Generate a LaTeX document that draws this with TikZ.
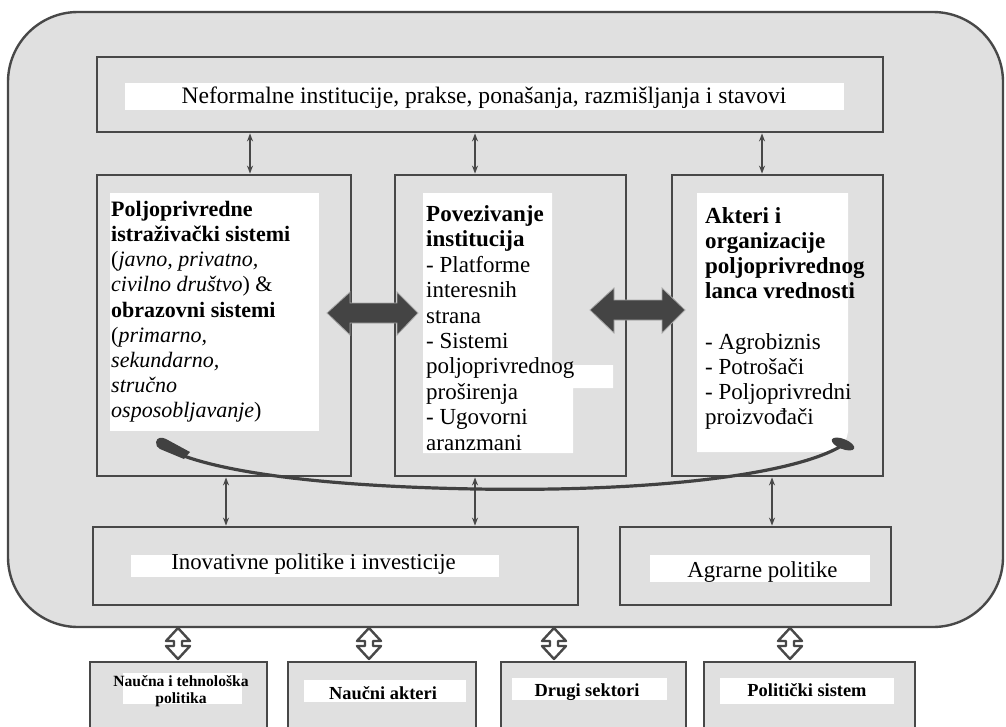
\documentclass[tikz,border=0pt]{standalone}
\usepackage{fontspec}
\setmainfont{Liberation Serif}
\usetikzlibrary{arrows.meta}
\definecolor{bg}{RGB}{224,224,224}
\definecolor{dark}{RGB}{72,72,72}
\definecolor{arrowfill}{RGB}{68,68,68}
\tikzset{
  boxx/.style={draw=dark, line width=2.8pt, fill=bg, inner sep=0pt},
  strip/.style={fill=white},
  txt/.style={inner sep=0pt, anchor=north west, align=left},
  lbl/.style={inner sep=0pt, anchor=base, font=\fontsize{22.8}{27}\selectfont},
  blbl/.style={inner sep=0pt, anchor=base, font=\bfseries\fontsize{18.4}{20}\selectfont},
  dbl/.style={{Stealth[length=8pt,width=6pt]}-{Stealth[length=8pt,width=6pt]}, line width=1.5pt, draw=dark},
  bigarrow/.style={fill=arrowfill, draw=gray!70, line width=0.8pt},
  twin/.style={fill=white, draw=dark, line width=2.4pt, line join=round}
}
\begin{document}
\begin{tikzpicture}[x=1pt,y=-1pt]
\useasboundingbox (0,0) rectangle (1006,726);
\fill[white] (0,0) rectangle (1006,726);
% outer frame
\node[draw=dark, line width=2.4pt, fill=bg, rounded corners=70pt, minimum width=995pt, minimum height=615pt, inner sep=0pt] (outer) at (505.5,319.5) {};
% boxes
\node[boxx, minimum width=786pt, minimum height=75pt] (top) at (490,94.5) {};
\node[boxx, minimum width=254pt, minimum height=301pt] (lbox) at (224,325.5) {};
\node[boxx, minimum width=231pt, minimum height=301pt] (mbox) at (510.5,325.5) {};
\node[boxx, minimum width=211pt, minimum height=301pt] (rbox) at (777.5,325.5) {};
\node[boxx, minimum width=485pt, minimum height=78pt] (ibox) at (335.5,566) {};
\node[boxx, minimum width=271pt, minimum height=78pt] (abox) at (755.5,566) {};
\node[boxx, minimum width=177pt, minimum height=78pt] (b1) at (178.5,701) {};
\node[boxx, minimum width=188pt, minimum height=78pt] (b2) at (382,701) {};
\node[boxx, minimum width=185pt, minimum height=78pt] (b3) at (593.5,701) {};
\node[boxx, minimum width=211pt, minimum height=78pt] (b4) at (809.5,701) {};
% white strips
\fill[strip] (125,83) rectangle (844,110);
\fill[strip] (110,193) rectangle (319,431);
\fill[strip] (423,193) -- (552,193) -- (552,365) -- (613,365) -- (613,388) -- (573,388) -- (573,453) -- (423,453) -- cycle;
\fill[strip] (697,193) -- (848,193) -- (848,432) .. controls (846,445) and (838,452) .. (828,452) -- (697,452) -- cycle;
\fill[strip] (131,555) rectangle (499,577);
\fill[strip] (650,555) rectangle (870,582);
\fill[strip] (123,673) rectangle (242,704);
\fill[strip] (304,680) rectangle (466,702);
\fill[strip] (512,678) rectangle (667,700);
\fill[strip] (720,678) rectangle (894,704);
% texts
\node[lbl, font=\fontsize{23.6}{27}\selectfont] (toptext) at (484,103.5) {Neformalne institucije, prakse, ponašanja, razmišljanja i stavovi};
\node[txt, font=\fontsize{22}{25.2}\selectfont] (ltext) at (111,198.5) {\strut\textbf{Poljoprivredne}\\\textbf{istraživački sistemi}\\(\textit{javno, privatno,}\\\textit{civilno društvo}) \&\\\textbf{obrazovni sistemi}\\(\textit{primarno,}\\\textit{sekundarno,}\\\textit{stručno}\\\textit{osposobljavanje})};
\node[txt, font=\fontsize{23}{25.4}\selectfont] (mtext) at (426,203.5) {\strut\textbf{Povezivanje}\\\textbf{institucija}\\- Platforme\\interesnih\\strana\\- Sistemi\\poljoprivrednog\\proširenja\\- Ugovorni\\aranzmani};
\node[txt, font=\fontsize{23}{25.2}\selectfont] (rtext) at (705,205.4) {\strut\textbf{Akteri i}\\\textbf{organizacije}\\\textbf{poljoprivrednog}\\\textbf{lanca vrednosti}\\[25.2pt]- Agrobiznis\\- Potrošači\\- Poljoprivredni\\proizvođači};
\node[lbl] (itext) at (313.5,569) {Inovativne politike i investicije};
\node[lbl] (atext) at (762.5,577) {Agrarne politike};
\node[inner sep=0pt, anchor=north, align=center, font=\bfseries\fontsize{15.6}{17.5}\selectfont] (t1) at (181,673.8) {\strut Naučna i tehnološka\\politika};
\node[blbl] (t2) at (383,699) {Naučni akteri};
\node[blbl] (t3) at (587,696) {Drugi sektori};
\node[blbl] (t4) at (807,696) {Politički sistem};
% small vertical arrows
\coordinate (u1) at ([xshift=26pt]lbox.north);
\coordinate (u2) at ([xshift=-35.5pt]mbox.north);
\coordinate (u3) at ([xshift=-15.5pt]rbox.north);
\draw[dbl] (u1 |- top.south) -- (u1);
\draw[dbl] (u2 |- top.south) -- (u2);
\draw[dbl] (u3 |- top.south) -- (u3);
\coordinate (d1) at ([xshift=2pt]lbox.south);
\coordinate (d2) at ([xshift=-35.5pt]mbox.south);
\coordinate (d3) at ([xshift=-5.5pt]rbox.south);
\draw[dbl] (d1) -- (d1 |- ibox.north);
\draw[dbl] (d2) -- (d2 |- ibox.north);
\draw[dbl] (d3) -- (d3 |- abox.north);
% big double arrows
\path[bigarrow] (327,313) -- (350,292) -- (350,303) -- (397,303) -- (397,292) -- (418,313) -- (397,335) -- (397,323) -- (350,323) -- (350,335) -- cycle;
\path[bigarrow] (590,310) -- (614,288) -- (614,300) -- (662,300) -- (662,288) -- (685,310) -- (662,333) -- (662,320) -- (614,320) -- (614,333) -- cycle;
% sweeping curve
\draw[dark!90!black, line width=3.2pt, line cap=round] (164,447) .. controls (200,468) and (300,486) .. (476,489) .. controls (650,492) and (800,475) .. (846,443);
\fill[dark!90!black] (156,442) .. controls (157,437) and (162,437) .. (166,439) -- (190,452) -- (184,459) -- (160,449) .. controls (157,448) and (156,445) .. (156,442) -- cycle;
\fill[dark!90!black, rotate around={-22:(843,444)}] (843,444) ellipse (12pt and 5pt);
% twin arrows to outside actors
\foreach \x/\n in {178/k1,369/k2,554/k3,790/k4}{
  \path[twin] (\x,628) -- (\x+12,641) -- (\x+4,641) -- (\x+4,646) -- (\x+12,646) -- (\x,659) -- (\x-12,646) -- (\x-4,646) -- (\x-4,641) -- (\x-12,641) -- cycle;
}
\end{tikzpicture}
\end{document}
